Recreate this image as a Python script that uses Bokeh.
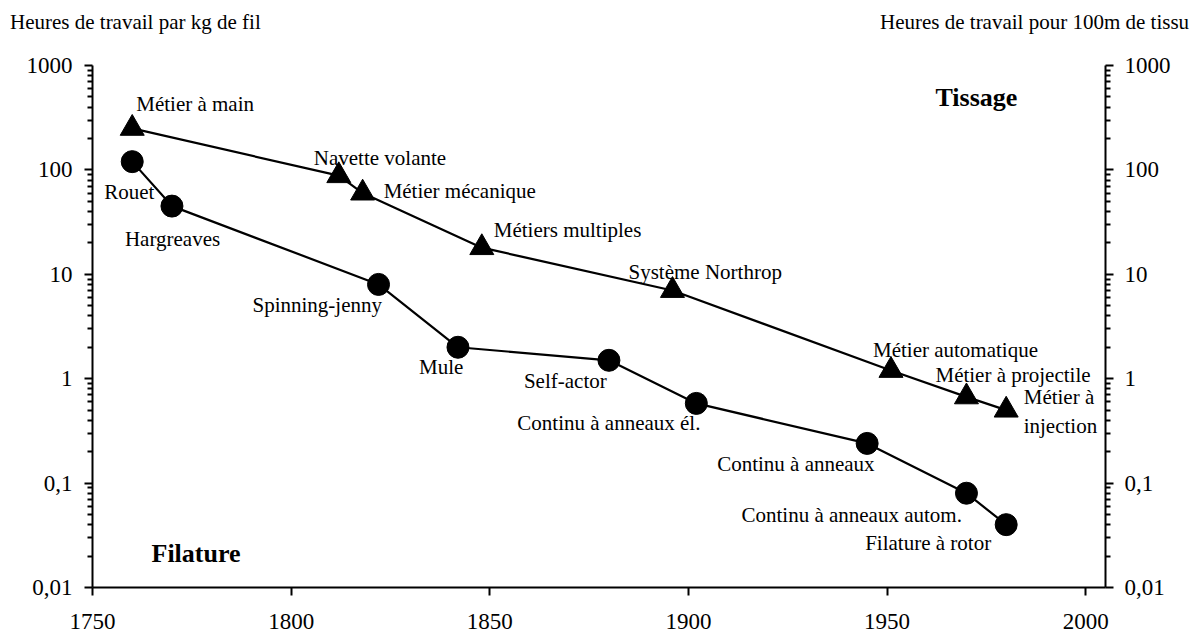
from bokeh.plotting import figure
from bokeh.models import LogAxis, FixedTicker, Label, LabelSet, ColumnDataSource, Range1d, Div
from bokeh.layouts import column
from bokeh.core.properties import value
from bokeh.embed import file_html
from bokeh.resources import INLINE

# --- data ---
tiss_years = [1760, 1812, 1818, 1848, 1896, 1951, 1970, 1980]
tiss_hours = [250, 88, 60, 18, 7, 1.2, 0.67, 0.5]
tiss_names = ["Métier à main", "Navette volante", "Métier mécanique", "Métiers multiples",
              "Système Northrop", "Métier automatique", "Métier à projectile", "Métier à\ninjection"]

fil_years = [1760, 1770, 1822, 1842, 1880, 1902, 1945, 1970, 1980]
fil_hours = [120, 45, 8, 2, 1.5, 0.58, 0.24, 0.08, 0.04]
fil_names = ["Rouet", "Hargreaves", "Spinning-jenny", "Mule", "Self-actor",
             "Continu à anneaux él.", "Continu à anneaux", "Continu à anneaux autom.",
             "Filature à rotor"]

y_ticks = [0.01, 0.1, 1, 10, 100, 1000]
y_tick_labels = ["0,01", "0,1", "1", "10", "100", "1000"]
x_ticks = [1750, 1800, 1850, 1900, 1950, 2000]
x_tick_labels = ["1750", "1800", "1850", "1900", "1950", "2000"]

left_title = "Heures de travail par kg de fil"
right_title = "Heures de travail pour 100m de tissu"

# --- label placement (pixels) ---
tiss_dx = [4, -25, 21, 12, -44, -18, -31, 91]
tiss_dy = [24, 18, 2, 18, 18, 20, 22, -1]
tiss_align = ["left"] * 7 + ["right"]
fil_dx = [-28, -47, -126, -39, -85, -179, -150, -225, -141]
fil_dy = [-30, -33, -21, -20, -21, -20, -21, -22, -18]

FONT = "Liberation Serif"
LBL = "21px"
TICK = "23px"

minor = []
for d in y_ticks[:-1]:
    for k in range(2, 10):
        minor.append(d * k)

W, H = 1192, 632
HEAD = 40
PH = H - HEAD

header = Div(
    text=(
        f'<div style="position:relative;width:{W}px;height:{HEAD}px;'
        f'font-family:\'{FONT}\';font-size:{LBL};line-height:24px;color:black;">'
        f'<span style="position:absolute;left:10px;top:10px;white-space:nowrap;">{left_title}</span>'
        f'<span style="position:absolute;left:880px;top:10px;white-space:nowrap;">{right_title}</span>'
        f'</div>'
    ),
    width=W, height=HEAD, margin=0,
)

p = figure(width=W, height=PH, x_range=Range1d(1750, 2005), y_range=Range1d(0.01, 1000),
           y_axis_type="log", output_backend="svg", toolbar_location=None,
           min_border_left=92, min_border_right=W - 1105, min_border_top=65 - HEAD,
           min_border_bottom=PH - (587 - HEAD), margin=0)
p.title.visible = False
p.outline_line_color = None
p.grid.visible = False
p.background_fill_color = "white"
p.border_fill_color = "white"

right_axis = LogAxis()
p.add_layout(right_axis, "right")

for ax, so in ((p.yaxis[0], 12), (right_axis, 11)):
    ax.ticker = FixedTicker(ticks=y_ticks, minor_ticks=minor)
    ax.major_label_overrides = dict(zip(y_ticks, y_tick_labels))
    ax.axis_line_width = 2
    ax.major_tick_line_width = 2
    ax.minor_tick_line_width = 2
    ax.major_tick_out = 8
    ax.major_tick_in = 0
    ax.minor_tick_out = 5
    ax.minor_tick_in = 0
    ax.major_label_text_font = FONT
    ax.major_label_text_font_size = TICK
    ax.major_label_text_color = "black"
    ax.major_label_standoff = so

xa = p.xaxis[0]
xa.ticker = FixedTicker(ticks=x_ticks, minor_ticks=[])
xa.major_label_overrides = dict(zip(x_ticks, x_tick_labels))
xa.axis_line_width = 2
xa.major_tick_line_width = 2
xa.major_tick_out = 8
xa.major_tick_in = 0
xa.minor_tick_line_color = None
xa.major_label_text_font = FONT
xa.major_label_text_font_size = TICK
xa.major_label_text_color = "black"
xa.major_label_standoff = 18

tsrc = ColumnDataSource(dict(x=tiss_years, y=tiss_hours, name=tiss_names,
                             dx=tiss_dx, dy=tiss_dy, align=tiss_align))
fsrc = ColumnDataSource(dict(x=fil_years, y=fil_hours, name=fil_names, dx=fil_dx, dy=fil_dy))

p.line("x", "y", source=tsrc, line_color="black", line_width=2.2)
p.scatter("x", "y", source=tsrc, marker="triangle", size=24, fill_color="black", line_color="black")
p.line("x", "y", source=fsrc, line_color="black", line_width=2.2)
p.scatter("x", "y", source=fsrc, marker="circle", size=22, fill_color="black", line_color="black")

p.add_layout(LabelSet(x="x", y="y", text="name", source=tsrc, x_offset="dx", y_offset="dy",
                      text_align="align", text_baseline="middle", text_font=value(FONT),
                      text_font_size=LBL, text_color="black"))
p.add_layout(LabelSet(x="x", y="y", text="name", source=fsrc, x_offset="dx", y_offset="dy",
                      text_align="left", text_baseline="middle", text_font=value(FONT),
                      text_font_size=LBL, text_color="black"))

p.add_layout(Label(x=935, y=97 - HEAD, x_units="canvas", y_units="canvas", text="Tissage",
                   text_font=FONT, text_font_size="26px", text_font_style="bold",
                   text_color="black", text_baseline="middle", text_align="left"))
p.add_layout(Label(x=151, y=553 - HEAD, x_units="canvas", y_units="canvas", text="Filature",
                   text_font=FONT, text_font_size="26px", text_font_style="bold",
                   text_color="black", text_baseline="middle", text_align="left"))

layout = column(header, p, spacing=0, margin=0)
open("out.html", "w").write(file_html(layout, INLINE))
